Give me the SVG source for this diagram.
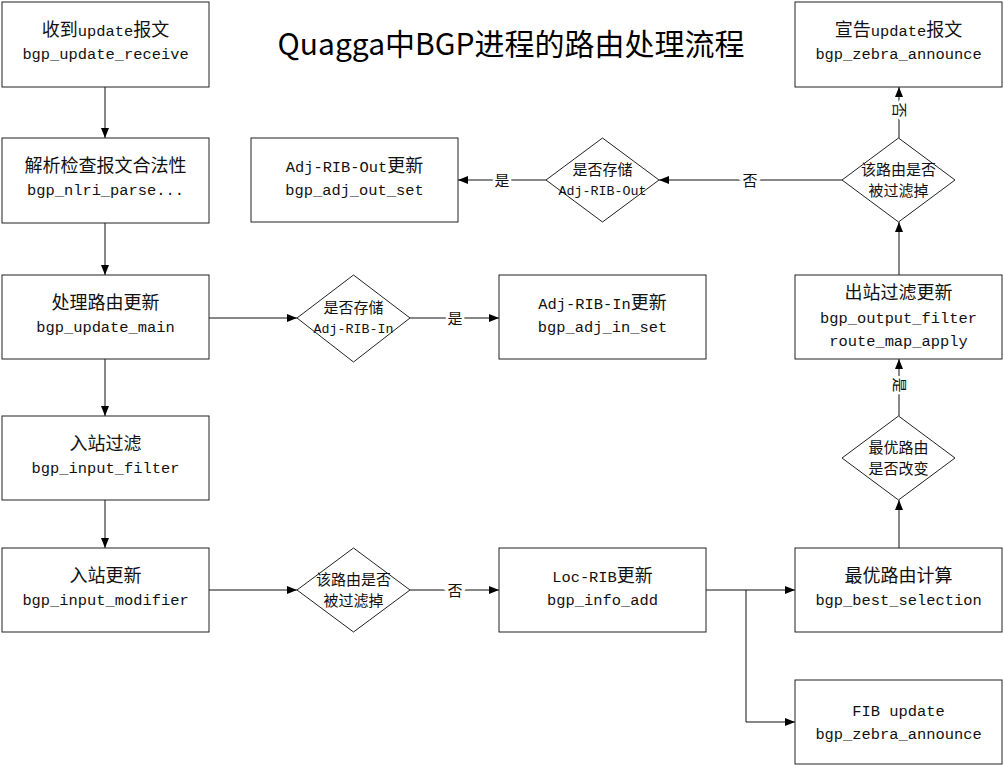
<svg xmlns="http://www.w3.org/2000/svg" width="1004" height="766" viewBox="0 0 1004 766">
<defs>
<marker id="arr" viewBox="0 0 10 8" refX="10" refY="4" markerWidth="10" markerHeight="8" markerUnits="userSpaceOnUse" orient="auto">
<path d="M0,0 L10,4 L0,8 Z" fill="#000"/>
</marker>
<style>
.box{fill:#fff;stroke:#222;stroke-width:1}
.t{text-anchor:middle;fill:#111}
.m{font-family:"Liberation Mono","Noto Sans CJK SC",monospace;font-size:15.4px}
.c{font-family:"Noto Sans CJK SC",sans-serif;font-size:18px}
.dm{font-family:"Liberation Mono","Noto Sans CJK SC",monospace;font-size:13.3px}
.dc{font-family:"Noto Sans CJK SC",sans-serif;font-size:15px}
.ln{fill:none;stroke:#111;stroke-width:1}
.lbl{font-family:"Noto Sans CJK SC",sans-serif;font-size:15px;text-anchor:middle;fill:#111;stroke:#fff;stroke-width:5;paint-order:stroke}
</style>
</defs>
<rect width="1004" height="766" fill="#fff"/>
<text x="511" y="55" style="font-family:'Noto Sans CJK SC',sans-serif;font-size:30px;text-anchor:middle;fill:#000">Quagga中BGP进程的路由处理流程</text>

<g id="connectors">
<path class="ln" d="M105,87 V138" marker-end="url(#arr)"/>
<path class="ln" d="M105,223 V275" marker-end="url(#arr)"/>
<path class="ln" d="M105,359 V416" marker-end="url(#arr)"/>
<path class="ln" d="M105,500 V548" marker-end="url(#arr)"/>
<path class="ln" d="M209,318 H297" marker-end="url(#arr)"/>
<path class="ln" d="M410,318 H499" marker-end="url(#arr)"/>
<text class="lbl" x="455" y="324">是</text>
<path class="ln" d="M209,590 H297" marker-end="url(#arr)"/>
<path class="ln" d="M410,590 H499" marker-end="url(#arr)"/>
<text class="lbl" x="455" y="596">否</text>
<path class="ln" d="M706,590 H795" marker-end="url(#arr)"/>
<path class="ln" d="M746,590 V722 H795" marker-end="url(#arr)"/>
<path class="ln" d="M899,548 V500" marker-end="url(#arr)"/>
<path class="ln" d="M899,416 V359" marker-end="url(#arr)"/>
<text class="lbl" transform="translate(899,385) rotate(90)" x="0" y="5">是</text>
<path class="ln" d="M899,275 V222" marker-end="url(#arr)"/>
<path class="ln" d="M899,138 V87" marker-end="url(#arr)"/>
<text class="lbl" transform="translate(899,110) rotate(90)" x="0" y="5">否</text>
<path class="ln" d="M842,180 H659" marker-end="url(#arr)"/>
<text class="lbl" x="750" y="186">否</text>
<path class="ln" d="M546,180 H458" marker-end="url(#arr)"/>
<text class="lbl" x="502" y="186">是</text>
</g>

<g id="n-receive">
<rect class="box" x="2" y="2" width="207" height="85"/>
<text class="t" x="105.5" y="36"><tspan class="c">收到</tspan><tspan class="m">update</tspan><tspan class="c">报文</tspan></text>
<text class="t m" x="105.5" y="59">bgp_update_receive</text>
</g>
<g id="n-parse">
<rect class="box" x="2" y="138" width="207" height="85"/>
<text class="t c" x="105.5" y="172">解析检查报文合法性</text>
<text class="t m" x="105.5" y="195">bgp_nlri_parse...</text>
</g>
<g id="n-main">
<rect class="box" x="2" y="275" width="207" height="84"/>
<text class="t c" x="105.5" y="309">处理路由更新</text>
<text class="t m" x="105.5" y="332">bgp_update_main</text>
</g>
<g id="n-input-filter">
<rect class="box" x="2" y="416" width="207" height="84"/>
<text class="t c" x="105.5" y="450">入站过滤</text>
<text class="t m" x="105.5" y="473">bgp_input_filter</text>
</g>
<g id="n-input-modifier">
<rect class="box" x="2" y="548" width="207" height="84"/>
<text class="t c" x="105.5" y="582">入站更新</text>
<text class="t m" x="105.5" y="605">bgp_input_modifier</text>
</g>
<g id="d-adj-in">
<polygon class="box" points="297,318 353.5,275 410,318 353.5,362"/>
<text class="t dc" x="353.5" y="313">是否存储</text>
<text class="t dm" x="353.5" y="333">Adj-RIB-In</text>
</g>
<g id="n-adj-in">
<rect class="box" x="499" y="275" width="207" height="84"/>
<text class="t" x="602.5" y="309"><tspan class="m">Adj-RIB-In</tspan><tspan class="c">更新</tspan></text>
<text class="t m" x="602.5" y="332">bgp_adj_in_set</text>
</g>
<g id="d-filtered-in">
<polygon class="box" points="297,590 353.5,548 410,590 353.5,632"/>
<text class="t dc" x="353.5" y="585">该路由是否</text>
<text class="t dc" x="353.5" y="606">被过滤掉</text>
</g>
<g id="n-loc-rib">
<rect class="box" x="499" y="548" width="207" height="84"/>
<text class="t" x="602.5" y="582"><tspan class="m">Loc-RIB</tspan><tspan class="c">更新</tspan></text>
<text class="t m" x="602.5" y="605">bgp_info_add</text>
</g>
<g id="n-best">
<rect class="box" x="795" y="548" width="207" height="84"/>
<text class="t c" x="898.5" y="582">最优路由计算</text>
<text class="t m" x="898.5" y="605">bgp_best_selection</text>
</g>
<g id="n-fib">
<rect class="box" x="795" y="680" width="207" height="84"/>
<text class="t m" x="898.5" y="716">FIB update</text>
<text class="t m" x="898.5" y="739">bgp_zebra_announce</text>
</g>
<g id="d-best-changed">
<polygon class="box" points="842,458 898.5,416 955,458 898.5,500"/>
<text class="t dc" x="898.5" y="453">最优路由</text>
<text class="t dc" x="898.5" y="474">是否改变</text>
</g>
<g id="n-output-filter">
<rect class="box" x="795" y="275" width="207" height="84"/>
<text class="t c" x="898.5" y="299">出站过滤更新</text>
<text class="t m" x="898.5" y="323">bgp_output_filter</text>
<text class="t m" x="898.5" y="346">route_map_apply</text>
</g>
<g id="d-filtered-out">
<polygon class="box" points="842,180 898.5,138 955,180 898.5,222"/>
<text class="t dc" x="898.5" y="175">该路由是否</text>
<text class="t dc" x="898.5" y="196">被过滤掉</text>
</g>
<g id="n-announce">
<rect class="box" x="795" y="2" width="207" height="85"/>
<text class="t" x="898.5" y="36"><tspan class="c">宣告</tspan><tspan class="m">update</tspan><tspan class="c">报文</tspan></text>
<text class="t m" x="898.5" y="59">bgp_zebra_announce</text>
</g>
<g id="d-adj-out">
<polygon class="box" points="546,180 602.5,138 659,180 602.5,222"/>
<text class="t dc" x="602.5" y="175">是否存储</text>
<text class="t dm" x="602.5" y="195">Adj-RIB-Out</text>
</g>
<g id="n-adj-out">
<rect class="box" x="251" y="138" width="207" height="84"/>
<text class="t" x="354.5" y="172"><tspan class="m">Adj-RIB-Out</tspan><tspan class="c">更新</tspan></text>
<text class="t m" x="354.5" y="195">bgp_adj_out_set</text>
</g>
</svg>
